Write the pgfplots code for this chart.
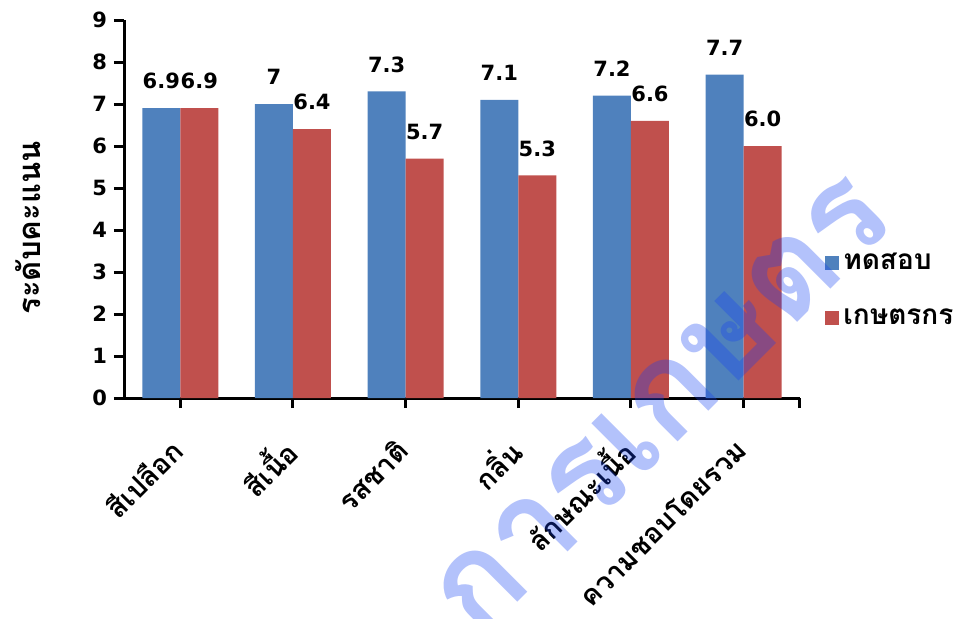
\documentclass[border=0pt]{standalone}
\usepackage{pgfplots}
\pgfplotsset{compat=1.18}
\usepackage{fontspec}
\setmainfont{DejaVu Sans}
\newfontfamily\thaifont[Script=Thai]{Loma}
\definecolor{barblue}{HTML}{4F81BD}
\definecolor{barred}{HTML}{C0504D}
\definecolor{wmblue}{RGB}{20,64,242}
\newcommand\numfont{\fontsize{10.5}{12}\selectfont\bfseries}
\newcommand\thaitext{\thaifont\fontsize{14}{16}\selectfont\bfseries}

\begin{document}
\begin{tikzpicture}[x=1pt,y=1pt]
\path[use as bounding box] (0,0) rectangle (480,309);
\begin{axis}[
  at={(62pt,110pt)}, anchor=south west,
  scale only axis, width=338pt, height=189pt,
  xmin=-0.5, xmax=5.5, ymin=0, ymax=9,
  ybar=0pt, bar width=19pt,
  axis lines*=left,
  axis line style={line width=1.5pt, black},
  every tick/.style={line width=1.5pt, black},
  tick align=outside, major tick length=5pt,
  xtick={0,...,5},
  xticklabels={สีเปลือก,สีเนื้อ,รสชาติ,กลิ่น,ลักษณะเนื้อ,ความชอบโดยรวม},
  xticklabel style={font=\thaitext, yshift=-16pt, xshift=1pt, rotate=45, anchor=east},
  extra x ticks={5.5},
  extra x tick labels={},
  ytick={0,...,9},
  yticklabel style={font=\numfont},
  /pgf/number format/assume math mode=true,
  ylabel={ระดับคะแนน},
  ylabel style={font=\thaifont\fontsize{15.5}{17}\selectfont\bfseries,
    at={(axis description cs:-0.142,0.45)}, anchor=center},
  point meta=explicit symbolic,
  nodes near coords,
  every node near coord/.append style={font=\numfont, yshift=6pt, text=black},
  legend image code/.code={\fill[#1] (0pt,-3.5pt) rectangle (7pt,3.5pt);},
  legend style={draw=none, fill=none, at={(axis description cs:1.028,0.286)}, anchor=west,
    font=\thaitext, row sep=14pt, /tikz/every even column/.append style={column sep=2pt}},
  legend cell align=left,
]
\addplot[fill=barblue, draw=none] coordinates {
  (0,6.9) [6.9] (1,7.0) [7] (2,7.3) [7.3] (3,7.1) [7.1] (4,7.2) [7.2] (5,7.7) [7.7]};
\addplot[fill=barred, draw=none] coordinates {
  (0,6.9) [6.9] (1,6.4) [6.4] (2,5.7) [5.7] (3,5.3) [5.3] (4,6.6) [6.6] (5,6.0) [6.0]};
\legend{ทดสอบ,เกษตรกร}
\end{axis}
% faint diagonal stamp across the lower right
\node[rotate=45, text=wmblue, opacity=0.32, font=\thaifont\fontsize{66}{66}\selectfont\bfseries]
  at (331pt,106pt) {การเกษตร};
\end{tikzpicture}
\end{document}
